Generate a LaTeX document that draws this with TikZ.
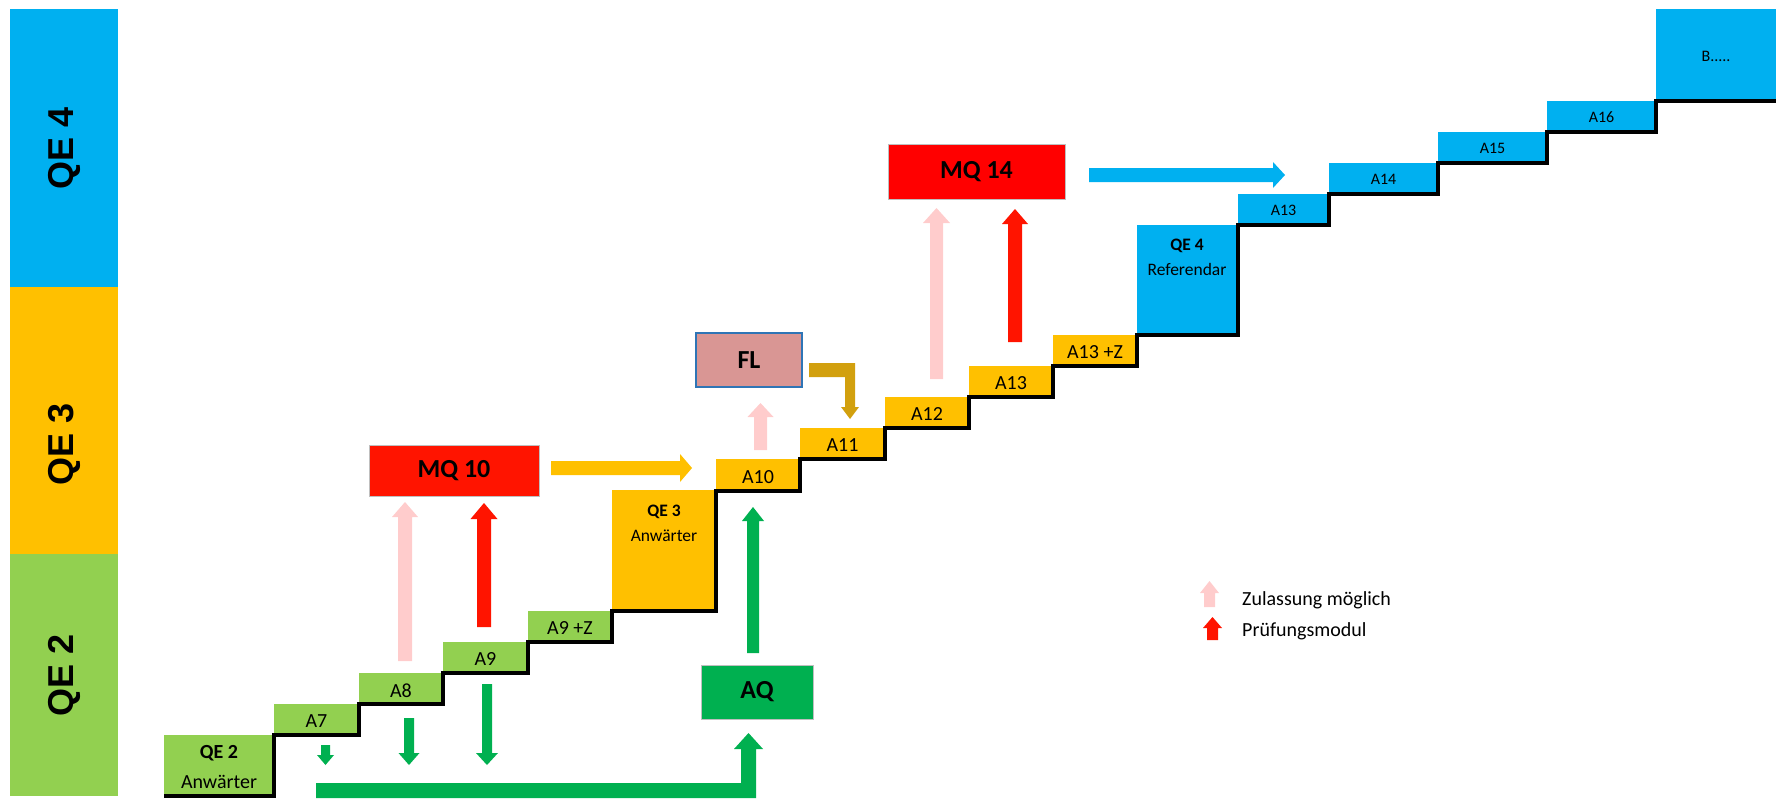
\documentclass[tikz,border=0pt]{standalone}
\usepackage{fontspec}
\setmainfont{Carlito}
\newfontfamily\arialf{Liberation Sans}
\definecolor{qblue}{HTML}{00B0F0}
\definecolor{qorange}{HTML}{FFC000}
\definecolor{qlgreen}{HTML}{92D050}
\definecolor{qdgreen}{HTML}{00B050}
\definecolor{qred}{HTML}{FF1400}
\definecolor{qpink}{HTML}{FFCCCC}
\definecolor{qfl}{HTML}{D99694}
\definecolor{qflborder}{HTML}{2E75B6}
\definecolor{qgold}{HTML}{D2A00E}
\definecolor{qgray}{HTML}{BFBFBF}
% vertical block arrow: colour, x centre, shaft half width, head half width, tip y, head base y, tail y
\newcommand\blkv[7]{\fill[#1] ({#2-#3},#7) -- ({#2-#3},#6) -- ({#2-#4},#6) -- (#2,#5) -- ({#2+#4},#6) -- ({#2+#3},#6) -- ({#2+#3},#7) -- cycle;}
% horizontal block arrow: colour, y centre, shaft half width, head half width, tip x, head base x, tail x
\newcommand\blkh[7]{\fill[#1] (#7,{#2-#3}) -- (#6,{#2-#3}) -- (#6,{#2-#4}) -- (#5,#2) -- (#6,{#2+#4}) -- (#6,{#2+#3}) -- (#7,{#2+#3}) -- cycle;}
\tikzset{
  stepbox/.style={rectangle, inner sep=0pt, outer sep=0pt, draw=none},
  steplbl/.style={inner sep=0pt, font=\fontsize{20}{24}\selectfont},
  bluelbl/.style={inner sep=0pt, font=\fontsize{16}{20}\selectfont},
  mqbox/.style={rectangle, inner sep=0pt, outer sep=0pt, draw=qgray, line width=1pt, font=\bfseries\fontsize{26}{30}\selectfont},
  barlbl/.style={inner sep=0pt, rotate=90, font=\arialf\bfseries\fontsize{36}{40}\selectfont},
  leglbl/.style={inner sep=0pt, anchor=base west, font=\fontsize{20}{24}\selectfont},
}
\newcommand\stp[6]{\node[stepbox, fill=#2, minimum width=#3pt, minimum height=#4pt] (#1) at (#5,#6) {};}
\begin{document}
\begin{tikzpicture}[x=1pt,y=-1pt]
\useasboundingbox (0,0) rectangle (1783,798);
% left bars
\fill[qblue] (10,9) rectangle (118,287);
\fill[qorange] (10,287) rectangle (118,554);
\fill[qlgreen] (10,554) rectangle (118,796);
\node[barlbl] (lqe4) at (64,148) {QE 4};
\node[barlbl] (lqe3) at (64,444) {QE 3};
\node[barlbl] (lqe2) at (64,675) {QE 2};
% steps
\stp{qe2}{qlgreen}{110}{61}{219}{765.5}
\stp{a7}{qlgreen}{85}{31}{316.5}{719.5}
\stp{a8}{qlgreen}{84}{31}{401}{688.5}
\stp{a9}{qlgreen}{85}{31}{485.5}{657.5}
\stp{a9z}{qlgreen}{84}{31}{570}{626.5}
\stp{qe3}{qorange}{104}{121}{664}{550.5}
\stp{a10}{qorange}{84}{32}{758}{475}
\stp{a11}{qorange}{85}{31}{842.5}{443.5}
\stp{a12}{qorange}{84}{31}{927}{412.5}
\stp{a13}{qorange}{84}{31}{1011}{381.5}
\stp{a13z}{qorange}{84}{31}{1095}{350.5}
\stp{qe4}{qblue}{101}{110}{1187.5}{280}
\stp{b13}{qblue}{91}{31}{1283.5}{209.5}
\stp{a14}{qblue}{109}{31}{1383.5}{178.5}
\stp{a15}{qblue}{109}{31}{1492.5}{147.5}
\stp{a16}{qblue}{109}{31}{1601.5}{116.5}
\stp{bb}{qblue}{120}{92}{1716}{55}
% step labels
\node[inner sep=0pt, align=center, font=\fontsize{20}{30}\selectfont] at (219,767) {\textbf{QE 2}\\Anwärter};
\node[steplbl] at ([yshift=-2pt]a7.center) {A7};
\node[steplbl] at ([yshift=-2pt]a8.center) {A8};
\node[steplbl] at ([yshift=-2pt]a9.center) {A9};
\node[steplbl] at ([yshift=-2pt]a9z.center) {A9 +Z};
\node[inner sep=0pt, align=center, font=\fontsize{17.5}{25}\selectfont] at (664,523.5) {\textbf{QE 3}\\Anwärter};
\node[steplbl] at ([yshift=-2pt]a10.center) {A10};
\node[steplbl] at ([yshift=-2pt]a11.center) {A11};
\node[steplbl] at ([yshift=-2pt]a12.center) {A12};
\node[steplbl] at ([yshift=-2pt]a13.center) {A13};
\node[steplbl] at ([yshift=-2pt]a13z.center) {A13 +Z};
\node[inner sep=0pt, align=center, font=\fontsize{17.5}{25}\selectfont] at (1187,257.5) {\textbf{QE 4}\\Referendar};
\node[bluelbl] at ([yshift=-1pt]b13.center) {A13};
\node[bluelbl] at ([yshift=-1pt]a14.center) {A14};
\node[bluelbl] at ([yshift=-1pt]a15.center) {A15};
\node[bluelbl] at ([yshift=-1pt]a16.center) {A16};
\node[bluelbl] at ([yshift=-1pt]bb.center) {B.....};
% staircase outline
\draw[line width=3.2pt, line join=miter, xshift=1pt, yshift=-1pt]
  (qe2.south west) -- (qe2.south east) -- (a7.south west) -- (a7.south east)
  -- (a8.south west) -- (a8.south east) -- (a9.south west) -- (a9.south east)
  -- (a9z.south west) -- (a9z.south east) -- (qe3.south west) -- (qe3.south east)
  -- (a10.south west) -- (a10.south east) -- (a11.south west) -- (a11.south east)
  -- (a12.south west) -- (a12.south east) -- (a13.south west) -- (a13.south east)
  -- (a13z.south west) -- (a13z.south east) -- (qe4.south west) -- (qe4.south east)
  -- (b13.south west) -- (b13.south east) -- (a14.south west) -- (a14.south east)
  -- (a15.south west) -- (a15.south east) -- (a16.south west) -- (a16.south east)
  -- (bb.south west) -- (bb.south east);
% qualification boxes
\node[mqbox, fill=qred, minimum width=170pt, minimum height=51pt] (mq10) at (454,470.5) {MQ 10};
\node[mqbox, fill=red, minimum width=177pt, minimum height=55pt] (mq14) at (976.5,171.5) {MQ 14};
\node[mqbox, fill=qfl, draw=qflborder, line width=1.2pt, minimum width=106pt, minimum height=54pt] (fl) at (749,360) {FL};
\node[mqbox, fill=qdgreen, minimum width=112pt, minimum height=54pt] (aq) at (757,692) {AQ};
% arrows to MQ 10
\blkv{qpink}{405}{7}{13}{502}{517}{661}
\blkv{qred}{484}{7}{13.5}{503}{519}{627}
\blkh{qorange}{468}{7}{14}{692}{680}{551}
% arrows around FL
\blkv{qpink}{760.5}{6.5}{13}{403}{417}{450}
\fill[qgold] (809,363) -- (855,363) -- (855,407) -- (859,407) -- (850,419) -- (841,407) -- (845,407) -- (845,377) -- (809,377) -- cycle;
% AQ arrows
\blkv{qdgreen}{753}{6}{11}{507}{521}{653}
\fill[qdgreen] (316,783) -- (741,783) -- (741,749) -- (734,749) -- (748.5,733) -- (763,749) -- (756,749) -- (756,798) -- (316,798) -- cycle;
\blkv{qdgreen}{325.5}{4.5}{8.5}{765}{755}{745}
\blkv{qdgreen}{409}{5}{10.5}{765}{753}{718}
\blkv{qdgreen}{487}{5}{11}{765}{753}{684}
% arrows to MQ 14
\blkv{qpink}{936.5}{6.5}{13.5}{208}{223}{379}
\blkv{qred}{1015}{7}{13}{209}{224}{342}
\blkh{qblue}{175}{7}{13}{1285}{1273}{1089}
% legend
\blkv{qpink}{1209.5}{5.5}{9.5}{581}{593}{607}
\blkv{qred}{1212.5}{5.5}{9.5}{617}{628}{640}
\node[leglbl] (leg1) at (1242,605) {Zulassung möglich};
\node[leglbl] (leg2) at (1242,636) {Prüfungsmodul};
\end{tikzpicture}
\end{document}
